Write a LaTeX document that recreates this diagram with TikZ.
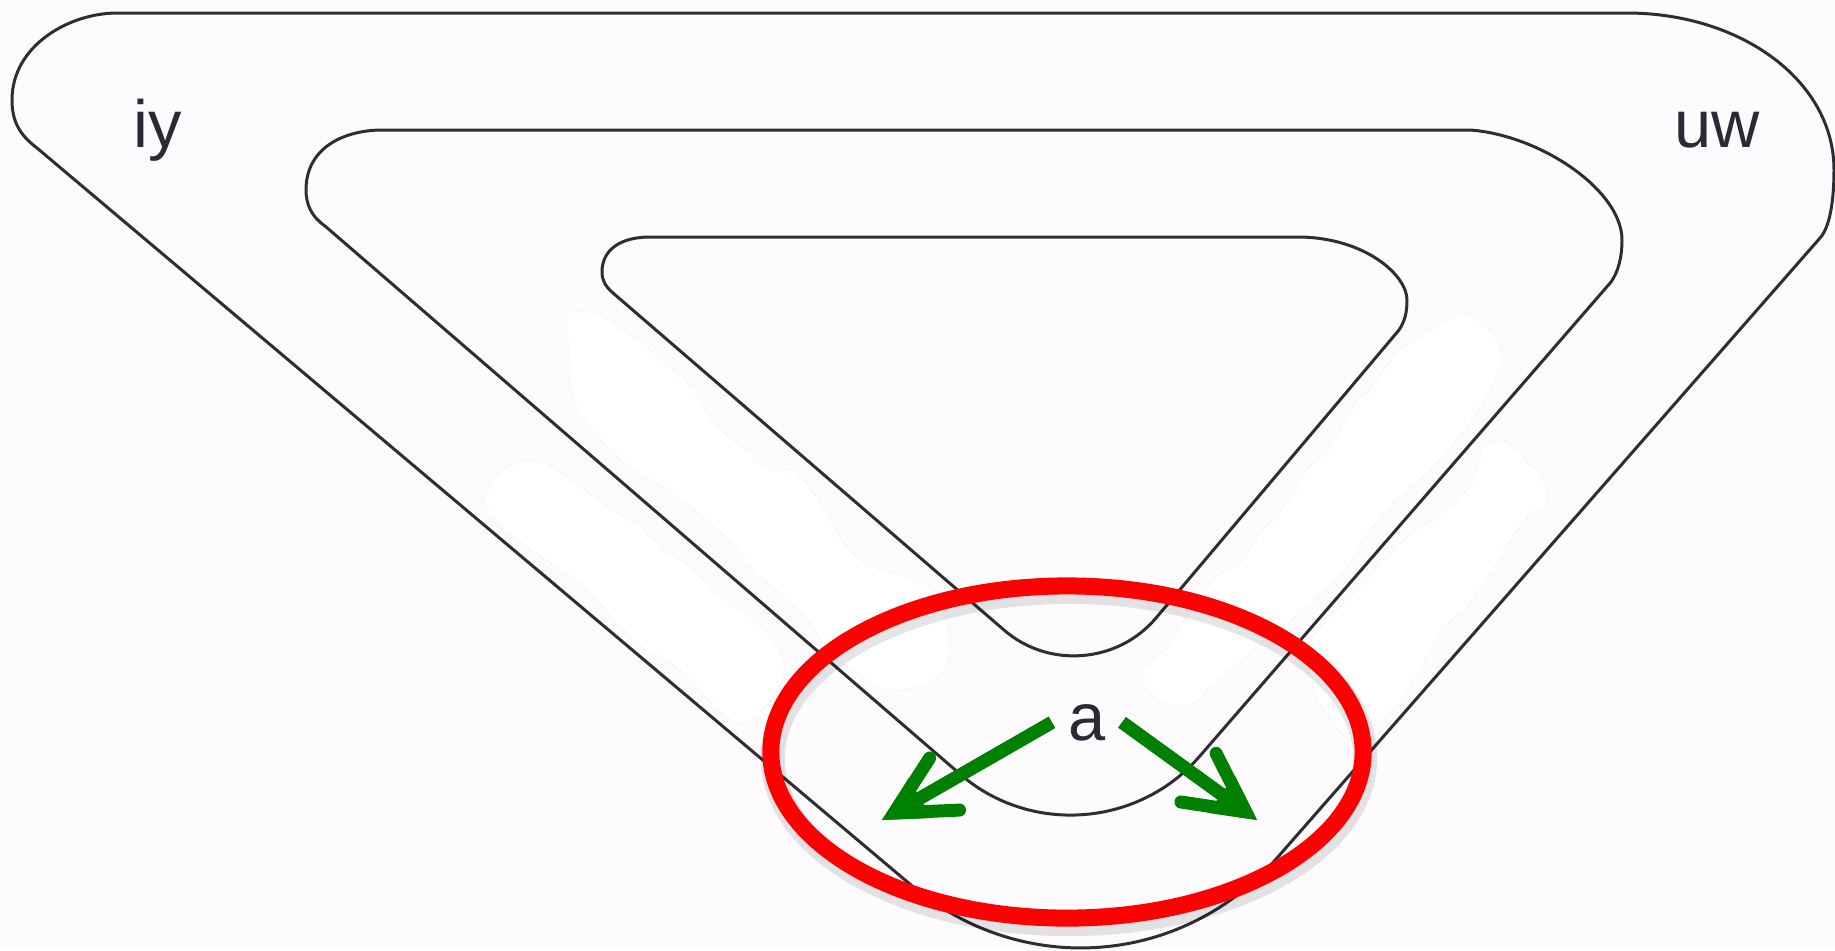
\documentclass[tikz,border=0pt]{standalone}
\usepackage{fontspec}
\setmainfont{Liberation Sans}
\usepackage{tikz}
\usetikzlibrary{arrows.meta}
\definecolor{paper}{RGB}{253,251,254}
\definecolor{ink}{RGB}{42,42,54}
\definecolor{curvegray}{RGB}{45,45,50}
\definecolor{arrowgreen}{RGB}{0,128,0}

\begin{document}
\begin{tikzpicture}[x=0.01cm,y=-0.01cm,
  curve/.style={draw=curvegray,line width=0.85pt,line join=round},
  blob/.style={fill=white,draw=black!9,densely dotted,line width=0.3pt},
  ring/.style={draw=red,line width=0.17cm},
  ringshade/.style={draw=black,opacity=0.1,line width=0.24cm},
  greenarrow/.style={draw=arrowgreen,line width=0.13cm,
    -{Straight Barb[length=0.58cm,width=0.6cm,line cap=round,line join=miter]},
    postaction={draw=arrowgreen,line width=0.13cm,
      -{Triangle[length=0.44cm,width=0.46cm,line width=0pt]}}},
  lbl/.style={text=ink,font=\fontsize{19}{23}\selectfont}]
\fill[paper] (0,0) rectangle (1835,950);
\useasboundingbox (0,0) rectangle (1835,950);

\draw[blob] plot[smooth cycle,tension=0.5] coordinates {(568,314) (600,314) (615,325) (650,350) (690,385) (712,420) (735,442) (770,468) (795,472) (822,505) (845,545) (870,565) (905,577) (935,592) (948,625) (948,662) (932,682) (905,690) (880,688) (853,670) (829,653) (812,625) (787,600) (752,569) (731,541) (700,515) (667,490) (640,473) (615,456) (583,418) (571,393) (569,350)};
\draw[blob] plot[smooth cycle,tension=0.5] coordinates {(511,465) (528,460) (550,465) (583,488) (615,512) (641,527) (662,549) (688,565) (717,593) (750,616) (774,642) (784,668) (775,694) (748,722) (727,718) (706,697) (678,668) (643,648) (614,620) (588,589) (555,566) (522,543) (492,517) (484,495) (495,477)};
\draw[blob] plot[smooth cycle,tension=0.5] coordinates {(1463,312) (1490,330) (1500,347) (1500,365) (1490,390) (1477,413) (1460,437) (1433,467) (1400,497) (1367,533) (1350,563) (1317,597) (1287,623) (1267,637) (1240,663) (1217,680) (1193,703) (1167,705) (1147,690) (1143,670) (1167,647) (1210,583) (1243,560) (1257,537) (1287,503) (1307,470) (1330,447) (1353,407) (1377,380) (1400,350) (1430,330)};
\draw[blob] plot[smooth cycle,tension=0.5] coordinates {(1493,442) (1507,442) (1533,467) (1543,480) (1547,503) (1533,513) (1517,530) (1493,570) (1467,607) (1443,630) (1420,670) (1400,703) (1377,723) (1353,740) (1333,723) (1317,700) (1310,683) (1310,643) (1327,620) (1360,587) (1383,560) (1413,533) (1453,503) (1473,480) (1483,447)};

\draw[curve] (117,13) -- (1627,13)
  .. controls (1740,13) and (1834,80) .. (1834,170)
  .. controls (1834,200) and (1830,227) .. (1820,238)
  -- (1277,858)
  .. controls (1181,967) and (1021,978) .. (911,885)
  -- (37,148)
  .. controls (20,135) and (12,122) .. (12,100)
  .. controls (12,45) and (70,13) .. (117,13) -- cycle;
\draw[curve] (380,130) -- (1470,130)
  .. controls (1540,135) and (1622,190) .. (1622,240)
  .. controls (1622,258) and (1618,272) .. (1611,282)
  -- (1199,757)
  .. controls (1138,827) and (1030,835) .. (960,774)
  -- (325,226)
  .. controls (312,217) and (306,205) .. (306,190)
  .. controls (306,150) and (340,131) .. (380,130) -- cycle;
\draw[curve] (650,237) -- (1300,237)
  .. controls (1365,238) and (1407,275) .. (1407,300)
  .. controls (1407,312) and (1405,321) .. (1399,330)
  -- (1156,618)
  .. controls (1118,663) and (1049,669) .. (1004,630)
  -- (613,293)
  .. controls (605,286) and (602,280) .. (602,272)
  .. controls (602,250) and (620,237) .. (650,237) -- cycle;

\draw[ringshade] (1069,758) ellipse [x radius=2.96cm,y radius=1.66cm];
\draw[ring] (1067,752) ellipse [x radius=2.96cm,y radius=1.66cm];

\node[lbl,anchor=base] (iy) at (158,147) {iy};
\node[lbl,anchor=base] (uw) at (1717,147) {uw};
\node[lbl,anchor=base,inner xsep=4.5pt] (a) at (1087,740) {a};
\coordinate (tipL) at (882,820);
\coordinate (tipR) at (1257,820);
\draw[greenarrow] (a.west) -- (tipL);
\draw[greenarrow] (a.east) -- (tipR);
\end{tikzpicture}
\end{document}
